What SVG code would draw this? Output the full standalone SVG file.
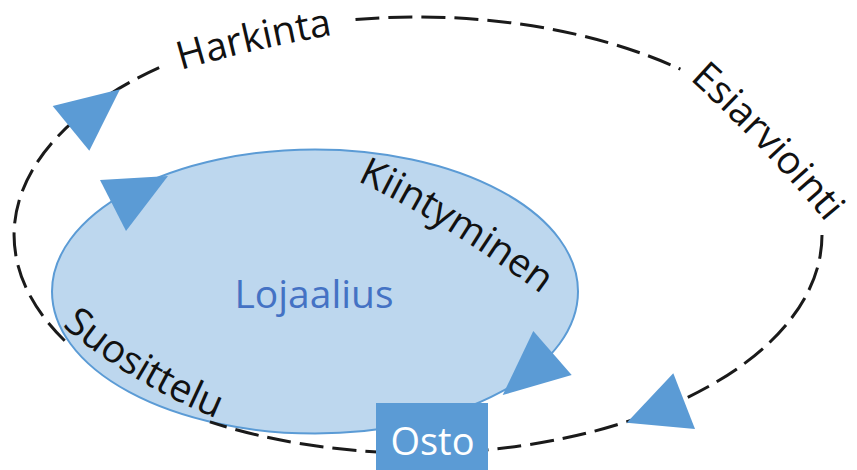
<svg xmlns="http://www.w3.org/2000/svg" width="857" height="470" viewBox="0 0 857 470">
  <style>
    .loop { fill: none; stroke: #1a1a1a; stroke-width: 3; stroke-dasharray: 24 9; }
    .head { fill: #5B9BD5; stroke: none; }
    .lbl { font-family: "Open Sans", "Noto Sans", sans-serif; font-size: 39px; fill: #111111; }
  </style>
  <defs>
    <path id="pHark" d="M181,70 Q255,48 350,32"/>
    <path id="pEsi" d="M689.5,79.5 Q768,150 842,242"/>
    <path id="pKiin" d="M357,181 Q445,222 552,302"/>
    <path id="pSuos" d="M62,326 Q135,388 235,426"/>
  </defs>
  <rect width="857" height="470" fill="#ffffff"/>

  <g id="lojaalius">
    <ellipse cx="315" cy="291.5" rx="263" ry="142" fill="#BDD7EE" stroke="#5B9BD5" stroke-width="2"/>
    <text x="314" y="308" text-anchor="middle" font-family="'Open Sans', 'Noto Sans', sans-serif" font-size="39" fill="#4472C4">Lojaalius</text>
  </g>

  <g id="connectors">
    <path class="loop" d="M355.5,19.6 A404,218 0 0,1 680.4,69.2"/>
    <path class="loop" d="M822,235 A404,218 0 0,1 209.9,421.9"/>
    <path class="loop" d="M64.7,340.7 A404,218 0 0,1 167.1,64.2"/>
    <polygon class="head" points="52.7,106 120,89.3 89.3,150.7"/>
    <polygon class="head" points="100,180 168,176 126,231"/>
    <polygon class="head" points="533.3,331 571.7,375 502.7,395"/>
    <polygon class="head" points="673.3,373.3 695,429 626.7,422.7"/>
  </g>

  <g id="labels">
    <text class="lbl"><textPath href="#pHark">Harkinta</textPath></text>
    <text class="lbl"><textPath href="#pEsi">Esiarviointi</textPath></text>
    <text class="lbl"><textPath href="#pKiin">Kiintyminen</textPath></text>
    <text class="lbl"><textPath href="#pSuos">Suosittelu</textPath></text>
  </g>

  <g id="osto">
    <rect x="376" y="403" width="112" height="67" fill="#5B9BD5"/>
    <text x="432.5" y="455" text-anchor="middle" font-family="'Open Sans', 'Noto Sans', sans-serif" font-size="38" fill="#ffffff">Osto</text>
  </g>
</svg>
